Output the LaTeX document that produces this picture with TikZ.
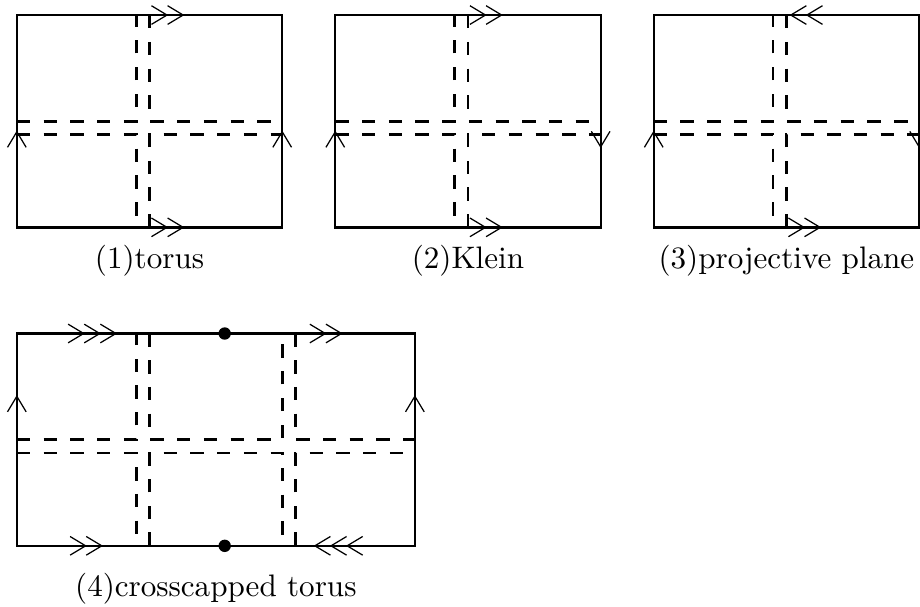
\documentclass[tikz,border=0pt]{standalone}
\usepackage{tikz}
\usetikzlibrary{arrows.meta}
\usetikzlibrary{calc}
\usetikzlibrary{positioning}
\tikzset{>={Straight Barb[length=5pt, width=6pt, sep=-0.4pt]}}
\tikzstyle{glue} = [draw, ->, line width=0.4pt]
\tikzstyle{seam} = [draw, line width=0.85pt, dash pattern=on 4.3pt off 4.3pt]

\begin{document}
\begin{tikzpicture}[
        face/.style={rectangle, draw=black, line width=0.75pt, minimum width=3cm, minimum height=2.4cm, inner sep=0pt, outer sep=0pt},
        wide-face/.style={face, minimum width=4.5cm},
        pinch/.style={circle, fill=black, inner sep=0pt, minimum size=0.14cm}
      ]
      \useasboundingbox (-0.19,-0.69) rectangle (10.21,6.17);
      \node[face]        (t1) at (1.5,4.8)                      {};
      \node[face]        (t2)[right=0.6cm of t1]               {};
      \node[face]        (t3)[right=0.6cm of t2]               {};
      \node[wide-face]   (t4)[below=1.2cm of t1.south west, anchor=north west] {};
      \node              (l1)[below=0.075cm of t1]             {(1)torus};
      \node              (l2)[below=0.075cm of t2]             {(2)Klein};
      \node              (l3)[below=0.075cm of t3]             {(3)projective plane};
      \node              (l4)[below=0.18cm of t4]              {(4)crosscapped torus};
      \node[pinch]       (p1) at ($(t4.north west)+(2.35,0)$)  {};
      \node[pinch]       (p2) at ($(t4.south west)+(2.35,0)$)  {};
      % cut lines
      \draw[seam]   ($(t1.north west)+(0,-1.2)$)  -| ($(t1.north west)+(1.35,0)$);
      \draw[seam]   ($(t1.north west)+(1.5,0)$)   |- ($(t1.north east)+(0,-1.2)$);
      \draw[seam]   ($(t1.north west)+(0,-1.35)$) -| ($(t1.south west)+(1.35,0)$);
      \draw[seam]   ($(t1.south west)+(1.5,0)$)   |- ($(t1.north east)+(0,-1.35)$);
      \draw[seam]   ($(t2.north west)+(0,-1.2)$)  -| ($(t2.north west)+(1.35,0)$);
      \draw[seam]   ($(t2.north west)+(1.5,0)$)   |- ($(t2.north east)+(0,-1.2)$);
      \draw[seam]   ($(t2.north west)+(0,-1.35)$) -| ($(t2.south west)+(1.35,0)$);
      \draw[seam]   ($(t2.south west)+(1.5,0)$)   |- ($(t2.north east)+(0,-1.35)$);
      \draw[seam]   ($(t3.north west)+(0,-1.2)$)  -| ($(t3.north west)+(1.35,0)$);
      \draw[seam]   ($(t3.north west)+(1.5,0)$)   |- ($(t3.north east)+(0,-1.2)$);
      \draw[seam]   ($(t3.north west)+(0,-1.35)$) -| ($(t3.south west)+(1.35,0)$);
      \draw[seam]   ($(t3.south west)+(1.5,0)$)   |- ($(t3.north east)+(0,-1.35)$);
      \draw[seam]   ($(t4.north west)+(0,-1.2)$)  -| ($(t4.north west)+(1.35,0)$);
      \draw[seam]   ($(t4.north west)+(1.5,0)$)   |- ($(t4.north west)+(3.0,-1.2)$) -- ($(t4.north west)+(3.0,0)$);
      \draw[seam]   ($(t4.north west)+(3.15,0)$)  |- ($(t4.north east)+(0,-1.2)$);
      \draw[seam]   ($(t4.north west)+(0,-1.35)$) -| ($(t4.south west)+(1.35,0)$);
      \draw[seam]   ($(t4.south west)+(1.5,0)$)   |- ($(t4.north west)+(3.0,-1.35)$) -- ($(t4.south west)+(3.0,0)$);
      \draw[seam]   ($(t4.south west)+(3.15,0)$)  |- ($(t4.north east)+(0,-1.35)$);
      % gluing marks
      \draw[glue, ->>]   ($(t1.north west)+(1.4,0)$)   -- ($(t1.north west)+(1.88,0)$);
      \draw[glue, ->>]   ($(t1.south west)+(1.4,0)$)   -- ($(t1.south west)+(1.88,0)$);
      \draw[glue]        ($(t1.north west)+(0,-1.8)$)  -- ($(t1.north west)+(0,-1.32)$);
      \draw[glue]        ($(t1.north east)+(0,-1.8)$)  -- ($(t1.north east)+(0,-1.32)$);
      \draw[glue, ->>]   ($(t2.north west)+(1.4,0)$)   -- ($(t2.north west)+(1.88,0)$);
      \draw[glue, ->>]   ($(t2.south west)+(1.4,0)$)   -- ($(t2.south west)+(1.88,0)$);
      \draw[glue]        ($(t2.north west)+(0,-1.8)$)  -- ($(t2.north west)+(0,-1.32)$);
      \draw[glue]        ($(t2.north east)+(0,-1.0)$)  -- ($(t2.north east)+(0,-1.49)$);
      \draw[glue, ->>]   ($(t3.north west)+(2.0,0)$)   -- ($(t3.north west)+(1.55,0)$);
      \draw[glue, ->>]   ($(t3.south west)+(1.4,0)$)   -- ($(t3.south west)+(1.88,0)$);
      \draw[glue]        ($(t3.north west)+(0,-1.8)$)  -- ($(t3.north west)+(0,-1.32)$);
      \draw[glue]        ($(t3.north east)+(0,-1.0)$)  -- ($(t3.north east)+(0,-1.49)$);
      \draw[glue, ->>>]  ($(t4.north west)+(0.3,0)$)   -- ($(t4.north west)+(1.12,0)$);
      \draw[glue, ->>]   ($(t4.north west)+(3.3,0)$)   -- ($(t4.north west)+(3.67,0)$);
      \draw[glue, ->>]   ($(t4.south west)+(0.5,0)$)   -- ($(t4.south west)+(0.96,0)$);
      \draw[glue, ->>>]  ($(t4.south west)+(4.2,0)$)   -- ($(t4.south west)+(3.37,0)$);
      \draw[glue]        ($(t4.north west)+(0,-1.2)$)  -- ($(t4.north west)+(0,-0.71)$);
      \draw[glue]        ($(t4.north east)+(0,-1.2)$)  -- ($(t4.north east)+(0,-0.71)$);
    \end{tikzpicture}
\end{document}
